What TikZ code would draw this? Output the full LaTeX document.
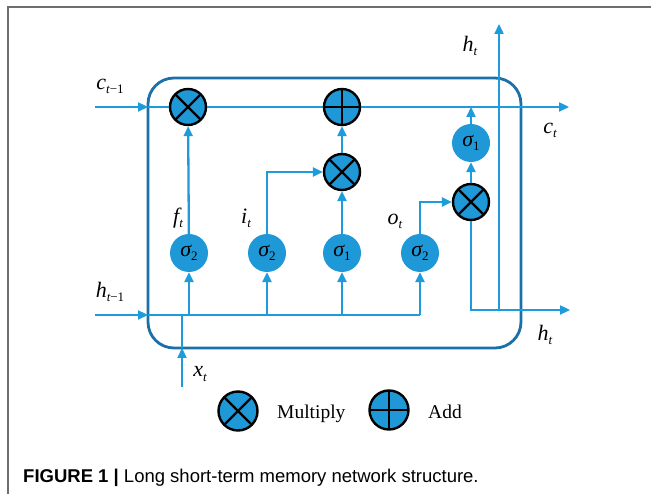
\documentclass[tikz,border=0pt]{standalone}
\usepackage{fontspec}
\setmainfont{Liberation Serif}
\newfontfamily\capfont{Liberation Sans}
\usetikzlibrary{arrows.meta}
\definecolor{arrowc}{RGB}{30,155,218}
\definecolor{boxc}{RGB}{28,112,170}
\definecolor{fillc}{RGB}{30,152,214}
\definecolor{framec}{RGB}{110,110,110}
\newcommand\lbl[2]{{\itshape #1}\raisebox{-0.4ex}{\fontsize{13}{13}\selectfont #2}}
\newcommand\sg[1]{{\itshape σ}\raisebox{-0.4ex}{\fontsize{13}{13}\selectfont #1}}
\begin{document}
\begin{tikzpicture}[x=1pt,y=-1pt,
  flow/.style={draw=arrowc, line width=2.3pt},
  arr/.style={flow,-{Triangle[length=10pt,width=9pt]}},
  opbase/.style={circle, fill=fillc, draw=black, line width=2.4pt, minimum size=36pt, inner sep=0pt},
  mul/.style={opbase, path picture={\draw[line width=2.4pt] (path picture bounding box.center) +(45:24pt) -- +(225:24pt) (path picture bounding box.center) +(135:24pt) -- +(315:24pt);}},
  addop/.style={opbase, path picture={\draw[line width=2.4pt] (path picture bounding box.center) +(0:24pt) -- +(180:24pt) (path picture bounding box.center) +(90:24pt) -- +(270:24pt);}},
  sig/.style={circle, fill=fillc, minimum size=38pt, inner sep=0pt, font=\fontsize{22}{22}\selectfont},
  lab/.style={font=\fontsize{22}{24}\selectfont, inner sep=0pt}
]
\useasboundingbox (0,0) rectangle (651,494);
\draw[framec, line width=1.2pt] (8,494) -- (8,7) -- (651,7);
\draw[boxc, line width=2.8pt, rounded corners=26pt] (148,78) rectangle (521,348);

% operators
\node[mul] (m1) at (188,107) {};
\node[addop] (a1) at (342,107) {};
\node[mul] (m2) at (342,172) {};
\node[mul] (m3) at (471,202) {};
% gates
\node[sig] (sf) at (189,253) {\sg{2}};
\node[sig] (si) at (267,253) {\sg{2}};
\node[sig] (sc) at (342,253) {\sg{1}};
\node[sig] (so) at (420,253) {\sg{2}};
\node[sig] (sr) at (471,143) {\sg{1}};

% coordinates
\coordinate (cin) at (95,107);
\coordinate (cbox) at (148,107);
\coordinate (cout) at (569,107);
\coordinate (hin) at (95,315);
\coordinate (hbox) at (148,315);
\coordinate (xin) at (182,387);
\coordinate (xbox) at (182,348);
\coordinate (xj) at (182,315);
\coordinate (hout) at (570,310);
\coordinate (hj) at (499,310);
\coordinate (htop) at (499,24);

% cell state line
\draw[arr] (cin) -- (cbox);
\draw[flow] (cbox) -- (m1);
\draw[flow] (m1) -- (a1);
\draw[arr] (a1) -- (cout);
% hidden input line
\draw[arr] (hin) -- (hbox);
\draw[flow] (hbox) -- (so |- hbox);
\draw[arr] (xin) -- (xbox);
\draw[flow] (xbox) -- (xj);
% gate inputs
\draw[arr] (sf |- hbox) -- (sf);
\draw[arr] (si |- hbox) -- (si);
\draw[arr] (sc |- hbox) -- (sc);
\draw[arr] (so |- hbox) -- (so);
% gate outputs
\draw[arr] (sf) -- (m1);
\draw[arr] (si.north) |- (m2);
\draw[arr] (sc) -- (m2);
\draw[arr] (m2) -- (a1);
\draw[arr] (so.north) |- (m3);
\draw[arr] (m3) -- (sr);
\draw[arr] (sr) -- (sr |- cin);
% output
\draw[arr] (m3.south) -- (m3 |- hout) -- (hout);
\draw[arr] (hj) -- (htop);

% labels
\node[lab] (lc) at (110,86) {\lbl{c}{\itshape t\upshape −1}};
\node[lab] (lh) at (110,292) {\lbl{h}{\itshape t\upshape −1}};
\node[lab] (lf) at (178,218) {\lbl{f}{\itshape t}};
\node[lab] (li) at (246,218) {\lbl{i}{\itshape t}};
\node[lab] (lo) at (395,221) {\lbl{o}{\itshape t}};
\node[lab] (lx) at (200,374) {\lbl{x}{\itshape t}};
\node[lab] (lht) at (470,46) {\lbl{h}{\itshape t}};
\node[lab] (lct) at (550,130) {\lbl{c}{\itshape t}};
\node[lab] (lhb) at (545,335) {\lbl{h}{\itshape t}};

% legend
\node[mul, minimum size=39pt] (lm) at (238,411) {};
\node[anchor=base west, inner sep=0pt, font=\fontsize{19.5}{20}\selectfont] (lmt) at (277,418) {Multiply};
\node[addop, minimum size=39pt] (la) at (389,410) {};
\node[anchor=base west, inner sep=0pt, font=\fontsize{19.5}{20}\selectfont] (lat) at (428,418) {Add};

% caption
\node[anchor=base west, inner sep=0pt, font=\capfont\fontsize{18.5}{20}\selectfont] (cap) at (23,482) {\textbf{FIGURE 1 |} Long short-term memory network structure.};
\end{tikzpicture}
\end{document}
